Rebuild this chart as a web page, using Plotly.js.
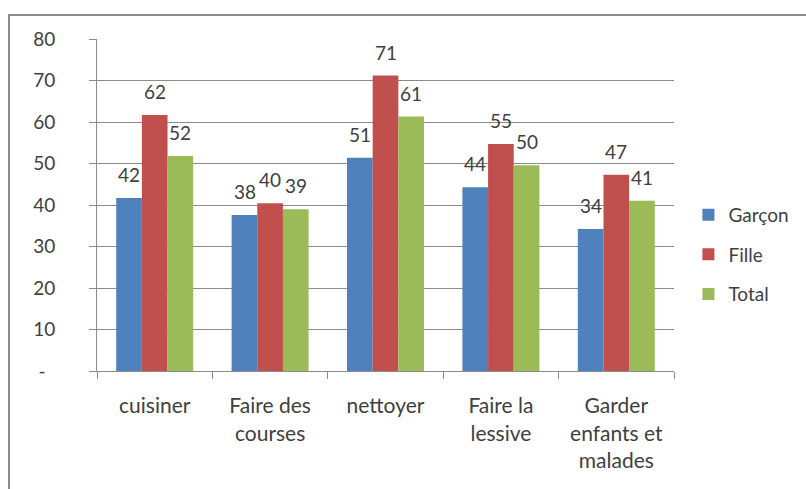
<!DOCTYPE html>
<html>
<head>
<meta charset="utf-8">
<script src="https://cdn.plot.ly/plotly-3.0.1.min.js"></script>
<style>
  body { margin: 0; background: #fff; }
  #graph { position: absolute; left: 0; top: 0; width: 806px; height: 489px; }
  #frame { position: absolute; left: 8px; top: 14px; width: 840px; height: 520px;
           border-left: 2px solid #8c8c8c; border-top: 2px solid #8c8c8c; pointer-events: none; }
</style>
</head>
<body>
<div id="graph"></div>
<div id="frame"></div>
<script>
var categories = ['cuisiner', 'Faire des<br>courses', 'nettoyer', 'Faire la<br>lessive', 'Garder<br>enfants et<br>malades'];
var garcon = [41.7, 37.6, 51.4, 44.3, 34.2];
var fille = [61.7, 40.4, 71.2, 54.7, 47.3];
var total = [51.8, 39.0, 61.3, 49.6, 41.0];
var seriesNames = ['Garçon', 'Fille', 'Total'];
var seriesColors = ['#4f81bd', '#c0504d', '#9bbb59'];
var yTickVals = [0, 10, 20, 30, 40, 50, 60, 70, 80];
var yTickText = ['-\u00a0\u00a0', '10', '20', '30', '40', '50', '60', '70', '80'];

var font = 'Lato, "Open Sans", sans-serif';
var allSeries = [garcon, fille, total];

var data = allSeries.map(function(vals, i) {
  return {
    type: 'bar',
    name: seriesNames[i],
    x: categories,
    y: vals,
    legendgroup: 'g' + i,
    marker: {color: seriesColors[i]},
    hoverinfo: 'skip'
  };
});

// value labels above bars (Excel "outside end" style)
var barPx = 25.6;
var annotations = [];
allSeries.forEach(function(vals, i) {
  vals.forEach(function(v, j) {
    annotations.push({
      x: categories[j], y: v, xref: 'x', yref: 'y',
      text: String(Math.round(v)),
      showarrow: false, yanchor: 'bottom',
      xshift: (i - 1) * barPx, yshift: 10,
      font: {family: font, size: 19, color: '#404040'}
    });
  });
});

var layout = {
  width: 806, height: 489,
  margin: {l: 97, r: 132, t: 39, b: 118},
  paper_bgcolor: '#ffffff',
  plot_bgcolor: '#ffffff',
  font: {family: font, size: 19, color: '#404040'},
  barmode: 'group',
  bargap: 0.333,
  bargroupgap: 0,
  showlegend: true,
  legend: {
    x: 1.025, xanchor: 'left', y: 0.35, yanchor: 'middle',
    tracegroupgap: 12,
    font: {family: font, size: 19, color: '#404040'}
  },
  xaxis: {
    type: 'category',
    showline: true, linecolor: '#8c8c8c', linewidth: 1,
    ticks: 'outside', tickson: 'boundaries', ticklen: 7, tickcolor: '#8c8c8c',
    ticklabelstandoff: 16,
    tickfont: {family: font, size: 21, color: '#404040'},
    showgrid: false, zeroline: false
  },
  yaxis: {
    range: [0, 80],
    tickvals: yTickVals, ticktext: yTickText,
    showline: true, linecolor: '#8c8c8c', linewidth: 1,
    ticks: 'outside', ticklen: 7, tickcolor: '#8c8c8c',
    ticklabelstandoff: 30,
    showgrid: true, gridcolor: '#8c8c8c', gridwidth: 1,
    zeroline: false
  },
  annotations: annotations
};

Plotly.newPlot('graph', data, layout, {displayModeBar: false, staticPlot: true});
</script>
</body>
</html>
